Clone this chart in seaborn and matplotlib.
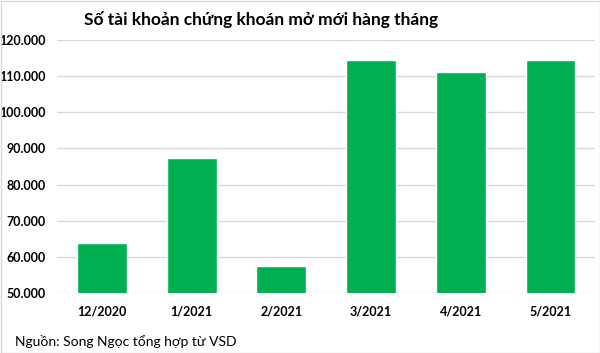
import matplotlib
matplotlib.use("Agg")
import matplotlib.pyplot as plt
import seaborn as sns
import pandas as pd
from matplotlib.ticker import FuncFormatter
from matplotlib.patches import Rectangle

months = ["12/2020", "1/2021", "2/2021", "3/2021", "4/2021", "5/2021"]
accounts = [63900, 87400, 57500, 114500, 111200, 114500]
y_ticks = [50000, 60000, 70000, 80000, 90000, 100000, 110000, 120000]

title = "Số tài khoản chứng khoán mở mới hàng tháng"
source = "Nguồn: Song Ngọc tổng hợp từ VSD"

sns.set_theme(style="white")
plt.rcParams['font.family'] = ['Lato', 'DejaVu Sans']

df = pd.DataFrame({"month": months, "accounts": accounts})

W, H = 600, 353
fig = plt.figure(figsize=(W / 100, H / 100), dpi=100)
ax = fig.add_axes([57 / W, 1 - 293.3 / H, (595.4 - 57) / W, (293.3 - 39.7) / H])

sns.barplot(data=df, x="month", y="accounts", color="#00b050", saturation=1,
            width=0.555, ax=ax, zorder=3)

ax.set_ylim(50000, 120000)
ax.set_yticks(y_ticks)
ax.yaxis.set_major_formatter(FuncFormatter(lambda v, p: f"{int(v):,}".replace(",", ".")))
ax.grid(axis="y", color="#d9d9d9", linewidth=1, zorder=0)
ax.grid(axis="x", visible=False)
for s in ax.spines.values():
    s.set_visible(False)
ax.tick_params(axis="both", length=0, labelsize=9, colors="#000000")
ax.tick_params(axis="y", pad=8)
ax.tick_params(axis="x", pad=9)
for lab in ax.get_xticklabels() + ax.get_yticklabels():
    lab.set_fontweight("bold")
ax.set_xlabel("")
ax.set_ylabel("")

fig.text(261 / W, 1 - 19 / H, title, ha="center", va="center",
         fontsize=12.5, fontweight="bold", color="#000000")
fig.text(15 / W, 1 - 341 / H, source, ha="left", va="center",
         fontsize=10, color="#000000")

fig.patches.append(Rectangle((0.5 / W, 0.5 / H), (W - 1) / W, (H - 1) / H,
                             transform=fig.transFigure, fill=False,
                             edgecolor="#d9d9d9", linewidth=1))

fig.savefig("out.png", dpi=100)
